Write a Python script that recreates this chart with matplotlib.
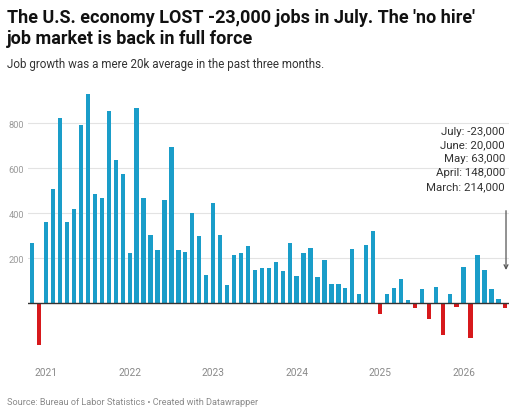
import matplotlib
matplotlib.use("Agg")
import matplotlib.pyplot as plt
import pandas as pd

# monthly job gains, thousands (Nov 2020 .. Jul 2026)
start_month = "2020-11"
jobs = [268, -184,
        363, 508, 822, 363, 419, 794, 930, 486, 467, 855, 637, 573,
        225, 868, 470, 304, 239, 459, 693, 236, 227, 400, 298, 124,
        444, 304, 83, 215, 225, 256, 147, 156, 157, 185, 142, 268,
        120, 222, 244, 117, 193, 86, 86, 70, 240, 43, 259, 323,
        -46, 40, 67, 108, 13, -19, 64, -68, 74, -139, 41, -18,
        160, -154, 214, 148, 63, 20, -23]
y_ticks = [200, 400, 600, 800]
note_lines = ["July: -23,000", "June: 20,000", "May: 63,000",
              "April: 148,000", "March: 214,000"]

title_lines = ["The U.S. economy LOST -23,000 jobs in July. The 'no hire'",
               "job market is back in full force"]
subtitle = "Job growth was a mere 20k average in the past three months."
source = "Source: Bureau of Labor Statistics \u2022 Created with Datawrapper"

plt.rcParams['font.family'] = ['Roboto', 'DejaVu Sans']

W, H = 514, 414
months = pd.date_range(start_month, periods=len(jobs), freq="MS")
x = list(range(len(jobs)))
colors = ['#1a9dc9' if v >= 0 else '#d7191c' for v in jobs]

fig = plt.figure(figsize=(W / 100, H / 100), dpi=100)

# axes box in pixels (left, top, right, bottom)
ax_l, ax_t, ax_r, ax_b = 28, 79.3, 509, 358.3
ax = fig.add_axes([ax_l / W, 1 - ax_b / H, (ax_r - ax_l) / W, (ax_b - ax_t) / H])

ax.bar(x, jobs, width=0.62, color=colors, zorder=2)
ax.axhline(0, color='#333333', lw=1, zorder=3)

ax.set_xlim(-0.62, len(jobs) - 0.47)
ax.set_ylim(-240, 1000)
ax.set_yticks(y_ticks)
ax.set_yticklabels([str(t) for t in y_ticks])
ax.tick_params(axis='y', length=0, pad=3, labelsize=6.7, labelcolor='#9a9a9a')
ax.yaxis.grid(True, color='#e3e3e3', lw=0.8, zorder=0)
ax.set_xticks([])
for s in ax.spines.values():
    s.set_visible(False)

# year labels under January bars
for i, m in enumerate(months):
    if m.month == 1:
        ax.text(i, -(372.7 - ax_b) / (ax_b - ax_t), str(m.year),
                transform=ax.get_xaxis_transform(), ha='center', va='center',
                fontsize=7.3, color='#8a8a8a')

# annotation
px_per_unit = (ax_b - ax_t) / 1240
def py(pix):
    return (ax_b - pix) / px_per_unit - 240

note_x = len(jobs) - 1.05
for k, line in enumerate(note_lines):
    ax.text(note_x, py(131.7 + 13.8 * k), line, ha='right', va='center',
            fontsize=8.2, color='#333333')
ax.annotate('', xy=(len(jobs) - 0.9, py(271)), xytext=(len(jobs) - 0.9, py(211.7)),
            arrowprops=dict(arrowstyle='->', color='#555555', lw=0.9,
                            shrinkA=0, shrinkB=0, mutation_scale=7))

for k, line in enumerate(title_lines):
    fig.text(7 / W, 1 - (23 + 21.3 * k) / H, line, fontsize=13.0,
             fontweight='bold', color='#111111', ha='left', va='baseline')
fig.text(7 / W, 1 - 67.7 / H, subtitle, fontsize=8.4, color='#333333',
         ha='left', va='baseline')
fig.text(7 / W, 1 - 405 / H, source, fontsize=6.6, color='#8a8a8a',
         ha='left', va='baseline')

fig.savefig('out.png', dpi=100, facecolor='white')
